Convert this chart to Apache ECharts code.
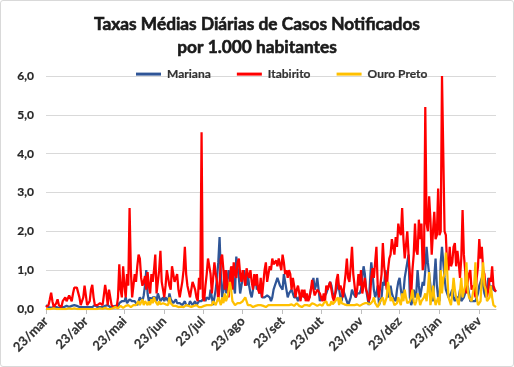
<!DOCTYPE html>
<html><head><meta charset="utf-8">
<script src="https://cdn.jsdelivr.net/npm/echarts@6/dist/echarts.min.js"></script>
<style>
html,body{margin:0;padding:0;background:#fff;}
#wrap{position:absolute;left:0;top:0;width:512px;height:365px;border:1px solid #d9d9d9;border-radius:3px;}
#chart{position:absolute;left:0;top:0;width:514px;height:367px;}
</style></head>
<body><div id="wrap"></div><div id="chart"></div>
<script>
const titleText = 'Taxas Médias Diárias de Casos Notificados\npor 1.000 habitantes';
const seriesNames = ['Mariana', 'Itabirito', 'Ouro Preto'];
const monthNames = ['jan','fev','mar','abr','mai','jun','jul','ago','set','out','nov','dez'];
const startDate = [2020, 2, 23];
const yTicks = [0, 1, 2, 3, 4, 5, 6];

const itabirito = [
0.05,0.05,0.1,0.25,0.42,0.2,0.05,0.05,0.15,0.25,
0.1,0.05,0.05,0.2,0.15,0.3,0.2,0.25,0.35,0.3,
0.2,0.4,0.55,0.6,0.55,0.5,0.3,0.1,0.05,0.3,
0.6,0.35,0.1,0.1,0.2,0.5,0.62,0.3,0.1,0.15,
0.1,0.05,0.15,0.2,0.1,0.35,0.62,0.4,0.1,0.5,
0.3,0.1,0.05,0.05,0.1,0.05,0.3,1.15,0.5,0.3,
1.1,0.6,0.3,0.9,0.6,2.6,1.0,0.3,0.6,0.9,
0.7,1.1,1.4,1.3,0.8,0.6,0.7,0.85,0.5,0.95,
0.6,0.4,0.9,0.7,1.0,1.4,0.4,0.7,1.0,1.5,
0.7,0.5,0.3,0.6,1.0,0.8,0.6,0.5,1.1,0.9,
0.7,0.8,0.9,0.5,0.3,0.5,0.7,1.0,1.6,0.9,
0.6,0.45,0.3,0.5,0.7,0.6,0.5,0.3,0.2,0.8,
0.5,4.55,0.3,0.2,0.6,0.9,1.3,1.1,0.9,0.4,
0.8,1.2,0.9,0.7,0.2,0.6,1.3,1.4,1.0,0.5,
1.0,0.6,0.3,0.8,1.1,0.5,1.2,0.9,0.8,1.2,
1.3,0.9,0.7,1.0,0.8,0.6,1.05,0.9,0.8,1.0,
0.7,0.5,0.9,0.6,0.9,0.5,0.4,0.8,0.3,0.3,
1.0,1.2,0.7,0.7,1.1,1.0,1.3,1.15,1.2,1.25,
1.1,1.3,1.35,1.0,1.4,1.2,0.9,1.0,0.8,1.0,
0.9,0.5,0.8,0.6,0.3,0.5,0.6,0.4,0.2,0.5,
0.3,0.5,0.2,0.4,0.2,0.3,0.5,0.75,0.5,0.35,
0.4,0.5,0.55,0.4,0.3,0.2,0.4,0.2,0.6,0.5,
0.6,0.7,0.5,0.3,0.2,0.4,0.75,0.9,0.5,0.6,
0.5,0.3,0.6,0.9,1.3,0.8,0.7,1.1,1.6,0.9,
0.6,0.3,0.5,0.9,0.6,1.0,0.4,0.6,0.8,0.5,
0.4,0.2,0.3,0.8,1.05,0.8,1.2,1.6,0.6,0.3,
0.6,0.9,1.7,1.1,0.8,0.5,1.0,1.3,1.4,1.8,
1.6,1.4,1.85,1.6,2.2,2.0,1.9,2.6,1.8,1.3,
1.3,2.0,1.4,0.9,0.3,1.0,1.4,2.2,1.5,1.4,
2.3,1.8,2.2,1.0,1.2,5.2,2.2,2.0,2.9,2.3,
1.4,2.0,2.5,1.8,1.9,3.1,1.9,2.0,6.0,6.0,
2.0,1.9,1.1,1.0,1.6,1.1,1.2,1.6,1.7,1.1,
1.5,1.2,0.8,1.3,2.55,1.4,1.0,0.4,0.7,0.9,
1.0,0.5,0.6,0.5,0.3,0.8,1.1,1.8,1.3,1.6,
1.0,0.9,0.5,0.3,0.5,0.8,0.7,1.1,0.6,0.5,0.45
];

const mariana = [
0.1,0.08,0.05,0.05,0.03,0.05,0.05,0.03,0.05,0.05,
0.03,0.05,0.05,0.03,0.05,0.05,0.08,0.05,0.05,0.1,
0.08,0.05,0.1,0.1,0.08,0.05,0.05,0.03,0.05,0.05,
0.05,0.05,0.05,0.08,0.05,0.05,0.05,0.08,0.1,0.05,
0.05,0.05,0.05,0.08,0.05,0.05,0.08,0.05,0.1,0.08,
0.05,0.05,0.05,0.05,0.08,0.1,0.05,0.15,0.1,0.2,
0.25,0.2,0.3,0.15,0.2,0.25,0.3,0.2,0.25,0.2,
0.15,0.1,0.2,0.3,0.3,0.2,0.35,0.6,1.0,0.4,
0.2,0.3,0.2,0.3,0.25,0.3,0.2,0.4,0.3,0.2,
0.25,0.3,0.2,0.3,0.25,0.2,0.4,0.25,0.2,0.15,
0.2,0.25,0.15,0.1,0.15,0.2,0.1,0.15,0.2,0.1,
0.15,0.1,0.2,0.15,0.1,0.15,0.2,0.1,0.15,0.2,
0.15,0.2,0.25,0.3,0.2,0.3,0.35,0.25,0.5,0.3,
0.1,0.3,0.5,0.8,1.2,1.85,0.9,0.3,0.5,1.0,
0.4,0.7,1.0,0.8,0.6,1.1,0.6,0.4,1.35,1.3,
0.8,0.4,0.6,0.8,1.0,0.7,0.6,0.9,0.6,0.4,
0.3,0.5,0.7,0.8,0.5,0.6,0.4,0.5,0.3,0.3,
0.3,0.25,0.35,0.4,0.3,0.2,0.3,0.5,0.6,0.7,
0.8,0.8,0.6,0.65,0.5,0.9,0.85,0.5,0.3,0.4,
0.4,0.5,0.4,0.3,0.25,0.3,0.2,0.3,0.25,0.4,
0.4,0.3,0.3,0.25,0.2,0.3,0.5,0.6,0.8,0.5,
0.6,0.8,0.5,0.2,0.3,0.25,0.3,0.3,0.4,0.5,
0.5,0.7,0.6,0.4,0.3,0.4,0.5,0.7,0.5,0.3,
0.2,0.5,0.4,0.3,0.3,0.1,0.1,0.3,0.5,0.4,
0.45,0.3,0.4,0.35,0.4,0.5,0.8,1.1,0.9,0.5,
0.3,0.1,0.7,1.2,0.9,0.5,0.3,0.4,0.6,0.1,
0.1,0.3,0.7,0.6,1.0,0.8,0.3,0.4,0.6,0.4,
0.3,0.25,0.2,0.5,0.7,0.8,0.5,0.3,0.4,0.8,
1.0,1.2,1.4,0.3,0.1,0.2,0.5,0.3,0.4,1.0,
0.6,0.3,0.5,0.7,0.6,1.0,1.6,1.2,0.9,0.6,
0.3,0.2,0.8,1.3,0.6,0.3,0.2,1.2,1.6,1.2,
0.8,0.5,0.4,0.3,0.35,0.4,0.5,0.3,0.2,0.3,
0.35,0.3,0.5,0.2,0.25,0.3,0.4,0.5,0.6,0.4,
0.2,0.25,0.2,0.15,0.2,0.3,0.4,0.6,0.7,0.8,
0.6,0.4,0.3,0.5,0.8,0.6,0.5,0.6,0.5,0.5,0.45
];

const ouroPreto = [
0,0,0,0,0,0,0.02,0,0,0,
0,0,0,0.02,0,0,0,0,0.02,0,
0,0,0.02,0,0,0,0,0.02,0,0,
0,0.02,0,0,0,0.02,0,0,0,0.02,
0,0,0.02,0,0,0,0.03,0,0,0.02,
0,0.03,0.02,0,0.05,0.03,0.02,0.05,0.08,0.05,
0.03,0.05,0.08,0.05,0.1,0.06,0.05,0.08,0.1,0.15,
0.1,0.15,0.2,0.1,0.15,0.25,0.1,0.2,0.15,0.1,
0.2,0.1,0.25,0.15,0.3,0.2,0.15,0.1,0.2,0.12,
0.1,0.15,0.1,0.12,0.08,0.1,0.3,0.15,0.1,0.08,
0.1,0.08,0.1,0.05,0.08,0.06,0.1,0.05,0.08,0.1,
0.05,0.08,0.06,0.05,0.1,0.08,0.05,0.1,0.06,0.05,
0.08,0.05,0.1,0.08,0.05,0.1,0.08,0.1,0.15,0.1,
0.2,0.15,0.1,0.2,0.3,0.2,0.1,0.3,0.15,0.4,
0.2,0.3,0.45,0.7,0.5,0.2,0.15,0.1,0.1,0.15,
0.1,0.15,0.1,0.2,0.25,0.3,0.2,0.1,0.08,0.1,
0.08,0.05,0.1,0.08,0.05,0.1,0.08,0.1,0.05,0.08,
0.1,0.05,0.08,0.1,0.05,0.1,0.08,0.1,0.12,0.1,
0.15,0.1,0.12,0.1,0.08,0.1,0.12,0.1,0.08,0.1,
0.1,0.12,0.1,0.08,0.1,0.15,0.1,0.08,0.1,0.05,
0.08,0.1,0.15,0.1,0.12,0.08,0.1,0.15,0.1,0.12,
0.1,0.08,0.1,0.12,0.1,0.08,0.15,0.1,0.2,0.1,
0.15,0.1,0.2,0.12,0.15,0.2,0.15,0.3,0.1,0.3,
0.15,0.1,0.12,0.08,0.1,0.05,0.1,0.08,0.1,0.12,
0.1,0.08,0.12,0.1,0.08,0.1,0.12,0.1,0.15,0.2,
0.15,0.2,0.12,0.15,0.2,0.3,0.15,0.1,0.05,0.1,
0.2,0.15,0.3,0.1,0.15,0.3,0.7,0.5,0.2,0.3,
0.2,0.1,0.1,0.15,0.3,0.2,0.1,0.4,0.2,0.5,
0.3,0.15,0.1,0.2,0.3,0.5,0.2,0.1,0.2,0.4,
0.3,0.1,0.2,0.15,0.3,0.4,0.2,0.5,0.95,0.1,
0.3,0.6,0.3,0.1,0.2,0.3,0.1,1.0,0.4,0.8,
0.9,1.45,1.0,0.3,0.2,0.1,0.4,0.8,0.5,0.3,
0.2,0.1,0.1,0.8,0.3,0.3,0.6,1.2,0.5,0.3,
0.3,0.2,0.2,0.6,1.2,0.3,0.1,0.15,0.2,0.8,
1.2,0.6,0.5,0.2,0.15,0.3,0.6,0.3,0.1,0.05,0.05
];

const colors = ['#2f5597', '#ff0000', '#ffc000'];

// day categories (one per data point)
const days = [];
for (let i = 0; i < itabirito.length; i++) {
  const d = new Date(Date.UTC(startDate[0], startDate[1], startDate[2] + i));
  days.push(d.getUTCDate() + '/' + monthNames[d.getUTCMonth()]);
}
const isTick = (idx, val) => /^23\//.test(val);

const chart = echarts.init(document.getElementById('chart'), null, {renderer: 'canvas'});
const font = 'Lato, "Open Sans", sans-serif';
chart.setOption({
  animation: false,
  backgroundColor: 'transparent',
  title: {
    text: titleText, left: 'center', top: 8,
    textStyle: {fontFamily: font, fontSize: 17.3, fontWeight: 'bold', color: '#1a1a1a', lineHeight: 23,
      textBorderColor: '#1a1a1a', textBorderWidth: 0.6}
  },
  legend: {
    data: seriesNames, top: 63, left: 131, icon: 'rect', itemWidth: 25, itemHeight: 3, itemGap: 26,
    textStyle: {fontFamily: font, fontSize: 12, fontWeight: 'bold', color: '#333333', padding: [0,0,0,1],
      textBorderColor: '#333333', textBorderWidth: 0.2}
  },
  grid: {left: 46, right: 18, top: 76, bottom: 58, containLabel: false},
  xAxis: {
    type: 'category', data: days, boundaryGap: false,
    axisLine: {lineStyle: {color: '#bfbfbf', width: 1}},
    axisTick: {show: true, interval: isTick, length: 5, lineStyle: {color: '#bfbfbf'}},
    axisLabel: {interval: isTick, rotate: 45, margin: 10, fontFamily: font, fontSize: 13, fontWeight: 'bold', color: '#333333',
      textBorderColor: '#333333', textBorderWidth: 0.2},
    splitLine: {show: false}
  },
  yAxis: {
    type: 'value', min: yTicks[0], max: yTicks[yTicks.length - 1], interval: 1,
    axisLine: {show: false}, axisTick: {show: false},
    axisLabel: {margin: 12, fontFamily: font, fontSize: 12, fontWeight: 'bold', color: '#262626',
      textBorderColor: '#262626', textBorderWidth: 0.2,
      formatter: v => v.toFixed(1).replace('.', ',')},
    splitLine: {lineStyle: {color: '#d9d9d9', width: 1}}
  },
  series: [
    {name: seriesNames[0], type: 'line', data: mariana, showSymbol: false, symbol: 'none', color: colors[0], lineStyle: {width: 2.25, color: colors[0]}},
    {name: seriesNames[1], type: 'line', data: itabirito, showSymbol: false, symbol: 'none', color: colors[1], lineStyle: {width: 2.25, color: colors[1]}},
    {name: seriesNames[2], type: 'line', data: ouroPreto, showSymbol: false, symbol: 'none', color: colors[2], lineStyle: {width: 2.25, color: colors[2]}}
  ]
});
</script></body></html>
